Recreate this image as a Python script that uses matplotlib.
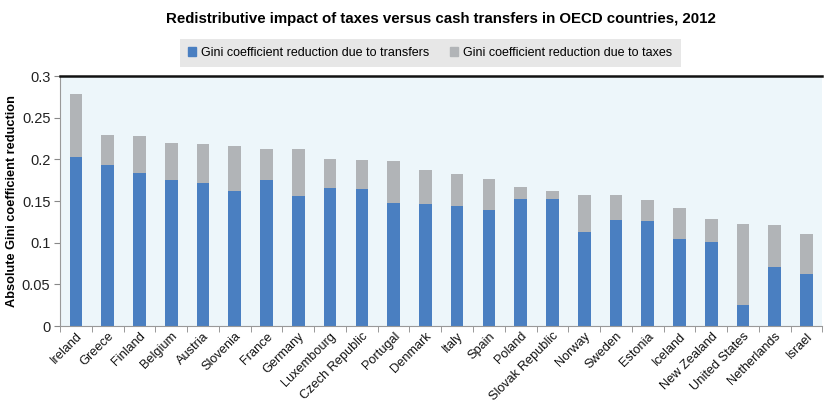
import numpy as np
from matplotlib import pyplot as plt
from matplotlib.patches import Patch

countries = ['Ireland', 'Greece', 'Finland', 'Belgium', 'Austria', 'Slovenia', 'France', 'Germany',
             'Luxembourg', 'Czech Republic', 'Portugal', 'Denmark', 'Italy', 'Spain', 'Poland',
             'Slovak Republic', 'Norway', 'Sweden', 'Estonia', 'Iceland', 'New Zealand',
             'United States', 'Netherlands', 'Israel']
transfers = [0.203, 0.193, 0.184, 0.175, 0.172, 0.162, 0.175, 0.156, 0.166, 0.165, 0.148, 0.146,
             0.144, 0.139, 0.153, 0.152, 0.113, 0.127, 0.126, 0.105, 0.101, 0.025, 0.071, 0.062]
total = [0.278, 0.229, 0.228, 0.220, 0.219, 0.216, 0.212, 0.212, 0.200, 0.199, 0.198, 0.187,
         0.182, 0.176, 0.167, 0.162, 0.157, 0.157, 0.151, 0.142, 0.128, 0.123, 0.121, 0.110]
taxes = [t - b for t, b in zip(total, transfers)]
yticks = [0, 0.05, 0.1, 0.15, 0.2, 0.25, 0.3]

plt.rcParams['font.family'] = ['Liberation Sans', 'DejaVu Sans']

blue = '#4a7fc1'
grey = '#b1b4b7'

fig = plt.figure(figsize=(8.24, 4.05), dpi=100)
ax = fig.add_axes([0.073, 0.195, 0.925, 0.617])
ax.set_facecolor('#edf6fa')

x = np.arange(len(countries))
ax.bar(x, transfers, width=0.4, color=blue, edgecolor='none')
ax.bar(x, taxes, width=0.4, bottom=transfers, color=grey, edgecolor='none')

ax.set_xlim(-0.5, len(countries) - 0.5)
ax.set_ylim(0, 0.3)
ax.set_yticks(yticks)
ax.set_yticklabels([f'{v:g}' for v in yticks], fontsize=10.5, color='#222222')
ax.set_xticks(x)
ax.set_xticklabels(countries, rotation=45, ha='right', rotation_mode='anchor', fontsize=9.2, color='#111111')
ax.tick_params(axis='x', length=0, pad=3)
ax.set_xticks(np.arange(-0.5, len(countries)), minor=True)
ax.tick_params(axis='x', which='minor', length=4, color='#888888', direction='out')
ax.tick_params(axis='y', length=4, color='#888888', direction='out', pad=3)

for side in ['left', 'bottom']:
    ax.spines[side].set_color('#999999')
ax.spines['top'].set_color('#111111')
ax.spines['top'].set_linewidth(1.8)
ax.spines['right'].set_visible(False)

ax.set_ylabel('Absolute Gini coefficient reduction', fontsize=9.2, fontweight='bold', labelpad=3)

fig.text(0.535, 0.952, 'Redistributive impact of taxes versus cash transfers in OECD countries, 2012',
         ha='center', va='center', fontsize=10.8, fontweight='bold')

handles = [Patch(color=blue, label='Gini coefficient reduction due to transfers'),
           Patch(color=grey, label='Gini coefficient reduction due to taxes')]
leg = fig.legend(handles=handles, loc='center', bbox_to_anchor=(0.522, 0.87), ncol=2, fontsize=9,
                 frameon=True, fancybox=False, handlelength=0.7, handleheight=0.7, handletextpad=0.4,
                 columnspacing=1.6, borderpad=0.65, borderaxespad=0)
leg.get_frame().set_facecolor('#e2e2e2')
leg.get_frame().set_edgecolor('none')

fig.savefig('out.png', dpi=100)
